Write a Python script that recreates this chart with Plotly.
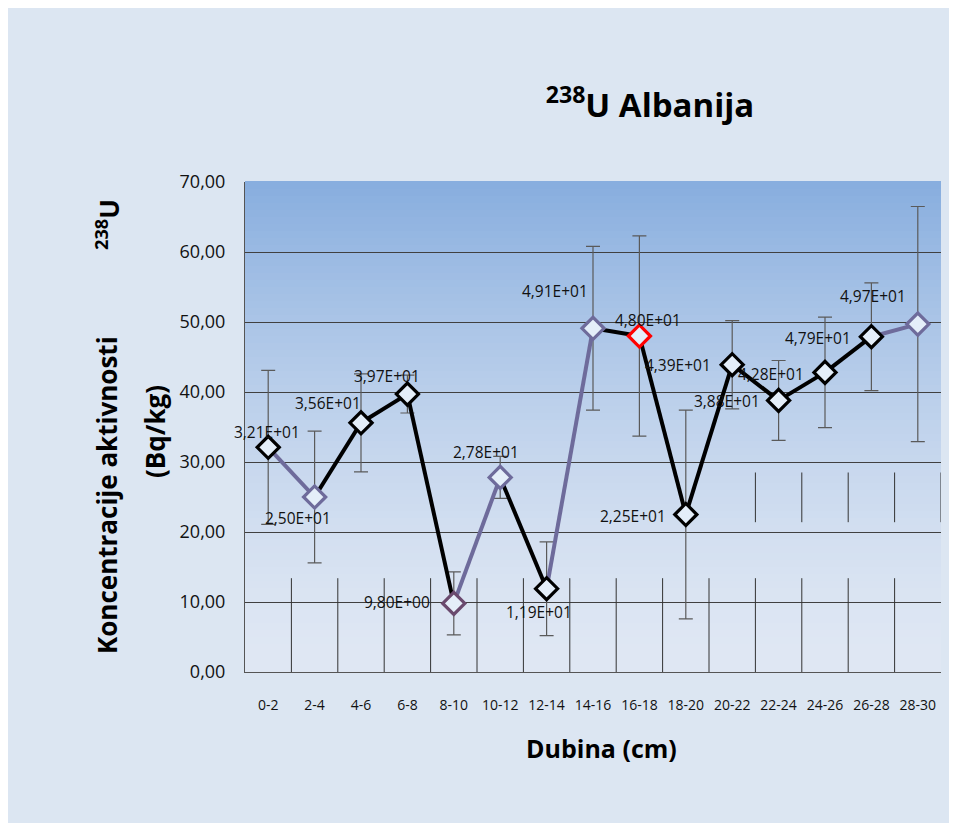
import plotly.graph_objects as go

categories = ["0-2", "2-4", "4-6", "6-8", "8-10", "10-12", "12-14", "14-16",
              "16-18", "18-20", "20-22", "22-24", "24-26", "26-28", "28-30"]
values = [32.1, 25.0, 35.6, 39.7, 9.8, 27.8, 11.9, 49.1,
          48.0, 22.5, 43.9, 38.8, 42.8, 47.9, 49.7]
errors = [11.0, 9.4, 7.0, 2.7, 4.5, 3.0, 6.7, 11.7,
          14.3, 14.9, 6.3, 5.7, 7.9, 7.7, 16.8]
labels = ["3,21E+01", "2,50E+01", "3,56E+01", "3,97E+01", "9,80E+00",
          "2,78E+01", "1,19E+01", "4,91E+01", "4,80E+01", "2,25E+01",
          "4,39E+01", "3,88E+01", "4,28E+01", "4,79E+01", "4,97E+01"]
y_ticks = [0, 10, 20, 30, 40, 50, 60, 70]
y_tick_text = ["0,00", "10,00", "20,00", "30,00", "40,00", "50,00", "60,00", "70,00"]

# styling
BLACK = "#000000"
PURPLE = "#6e6b9b"
seg_colors = [PURPLE, BLACK, BLACK, BLACK, PURPLE, BLACK, PURPLE, BLACK,
              BLACK, BLACK, BLACK, BLACK, BLACK, PURPLE]
marker_border = [BLACK, PURPLE, BLACK, BLACK, "#6a4a6e", PURPLE, BLACK, PURPLE,
                 "#ff0000", BLACK, BLACK, BLACK, BLACK, BLACK, PURPLE]
label_offsets = [(-1, -15), (-17, 21), (-33, -20), (-20, -18), (-57, -1),
                 (-14, -25), (-8, 23), (-38, -37), (9, -16), (-53, 1),
                 (-54, 0), (-52, 1), (-54, 2), (-53, 1), (-45, -28)]

fig = go.Figure()

# error bars
fig.add_trace(go.Scatter(
    x=categories, y=values, mode="markers",
    marker=dict(size=1, color="rgba(0,0,0,0)"),
    error_y=dict(type="data", array=errors, visible=True,
                 color="#5a5a5a", thickness=1.2, width=7),
    showlegend=False, hoverinfo="skip"))

# line segments
for i in range(len(categories) - 1):
    fig.add_trace(go.Scatter(
        x=categories[i:i + 2], y=values[i:i + 2], mode="lines",
        line=dict(color=seg_colors[i], width=4),
        showlegend=False, hoverinfo="skip"))

# markers
fig.add_trace(go.Scatter(
    x=categories, y=values, mode="markers",
    marker=dict(symbol="diamond", size=17, color="#e4eef9",
                line=dict(color=marker_border, width=3.2)),
    showlegend=False))

# data labels
for i, (c, v, t) in enumerate(zip(categories, values, labels)):
    dx, dy = label_offsets[i]
    fig.add_annotation(x=c, y=v, text=t, showarrow=False,
                       xanchor="center", yanchor="middle",
                       xshift=dx, yshift=-dy,
                       font=dict(family="Open Sans", size=15.5, color="#111111"))

# gradient background of plot area
n = 70
top = (0x88, 0xae, 0xdf)
bot = (0xe0, 0xe8, 0xf4)
shapes = []
for k in range(n):
    t = (k + 0.5) / n  # 0 bottom -> 1 top
    w = t ** 1.5
    col = tuple(int(bot[j] + (top[j] - bot[j]) * w) for j in range(3))
    shapes.append(dict(type="rect", xref="x domain", yref="y domain",
                       x0=0, x1=1, y0=k / n, y1=(k + 1) / n + 0.002,
                       fillcolor="rgb(%d,%d,%d)" % col, line=dict(width=0),
                       layer="below"))

# artifact vertical lines in lower band
for i in range(14):
    shapes.append(dict(type="line", xref="x", yref="y",
                       x0=i + 0.5, x1=i + 0.5, y0=0, y1=13.4,
                       line=dict(color="#333333", width=1)))
for i in range(10, 15):
    shapes.append(dict(type="line", xref="x", yref="y",
                       x0=i + 0.5, x1=i + 0.5, y0=21.4, y1=28.5,
                       line=dict(color="#333333", width=1)))
fig.update_layout(shapes=shapes)

# axis titles as annotations (page coords -> plot paper coords)
def px(xp):
    return (xp - 245) / 696


def py(yp):
    return (672 - yp) / 490


title_font = dict(family="Open Sans", size=26, color="#000000", weight="bold")
fig.add_annotation(xref="paper", yref="paper", x=px(108), y=py(225),
                   xanchor="center", yanchor="middle",
                   text="<sup>238</sup>U", showarrow=False, textangle=-90,
                   font=title_font)
fig.add_annotation(xref="paper", yref="paper", x=px(107), y=py(495),
                   xanchor="center", yanchor="middle",
                   text="Koncentracije aktivnosti", showarrow=False, textangle=-90,
                   font=title_font)
fig.add_annotation(xref="paper", yref="paper", x=px(155), y=py(432),
                   xanchor="center", yanchor="middle",
                   text="(Bq/kg)", showarrow=False, textangle=-90,
                   font=title_font)
fig.add_annotation(xref="paper", yref="paper", x=px(601), y=py(748),
                   xanchor="center", yanchor="middle",
                   text="Dubina (cm)", showarrow=False,
                   font=dict(family="Open Sans", size=25, color="#000000", weight="bold"))

fig.update_layout(
    width=957, height=823,
    margin=dict(l=237, r=24, t=174, b=159),
    paper_bgcolor="#dce6f2",
    plot_bgcolor="#e0e8f4",
    title=dict(text="<sup>238</sup>U Albanija", xref="container", yref="container",
               x=642 / 957, y=1 - 97 / 823, xanchor="center", yanchor="middle",
               font=dict(family="Open Sans", size=33, color="#000000", weight="bold")),
    xaxis=dict(type="category", range=[-0.5, 14.5], showgrid=False,
               showline=True, linecolor="#555555", linewidth=1,
               ticks="", tickfont=dict(family="Open Sans", size=14, color="#111111"),
               ticklabelstandoff=20),
    yaxis=dict(range=[0, 70], tickvals=y_ticks, ticktext=y_tick_text,
               showgrid=True, gridcolor="#404040", gridwidth=1,
               showline=True, linecolor="#555555", linewidth=1, zeroline=False,
               ticks="", tickfont=dict(family="Open Sans", size=18, color="#111111"),
               ticklabelstandoff=15),
)

fig.write_html("out.html")
